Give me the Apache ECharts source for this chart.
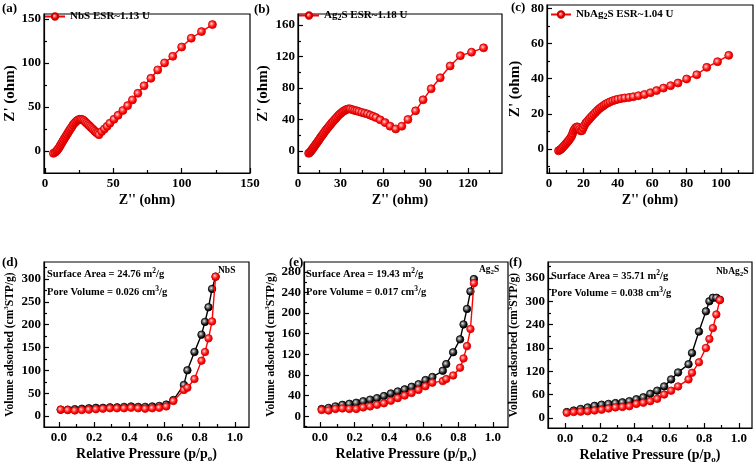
<!DOCTYPE html>
<html><head><meta charset="utf-8">
<script src="https://cdn.jsdelivr.net/npm/echarts@6/dist/echarts.min.js"></script>
<style>html,body{margin:0;padding:0;background:#fff}#c{width:756px;height:465px}</style>
</head><body><div id="c"></div>
<script>
// ---- EIS data (Nyquist) ----
const nbsZre = [6.2,7.5,8.5,9.2,10,10.8,11.5,12.3,13,13.8,14.6,15.4,16.2,17,17.8,18.6,19.5,20.5,21.5,22.5,23.5,24.5,25.5,26.5,27.5,28.5,29.5,30.5,31.5,32.5,33.5,34.5,35.5,36.5,37.5,38.5,39.5,41.5,43.5,45.5,47.5,50.5,53.5,57,60.5,64,68,72.5,77.5,82.5,87.5,93.5,100,107,114.5,122.5];
const nbsZim = [-2.7,-1.5,0,1.5,3,5,7,9,11,13,15,17,19,21,23,25,27,29.5,31.5,33,34.5,35.5,36,36,35.5,34.5,33,31.5,30,28.5,27,25.5,24,22.5,21,20,18.5,22,25,28,31.5,36,40.5,46,51.5,58,65.5,74,82.5,92,100,107.5,118,128,135.5,143.5];
const agZre = [7.5,8.3,9,9.6,10.2,10.8,11.4,12,12.7,13.4,14.1,14.8,15.5,16.3,17.1,17.9,18.7,19.5,20.4,21.3,22.2,23.1,24,25,26,27,28,29,30,31,32,33,34,35,36,37,38.5,40,41.5,43,45,47,49,51,53,55,58,61.5,65,69,73.3,77.6,83,88.3,94,100.4,107.4,114.6,122.5,131];
const agZim = [-3,-2,-0.5,1,2.5,4,5.5,7,8.8,10.5,12.3,14,16,18,20,22,24,26,28,30,32,34,36,38,40,42,44,46,47.5,49,50.5,51.5,52.5,53.2,53.5,53.3,52.5,51.5,51,50,49,48,47,45.5,44,42.5,39.5,36,31.5,28,31.5,40,51,65,79,93,108,121,125.5,131];
const nbagZre = [5.5,6.3,7,7.7,8.4,9.1,9.8,10.5,11.2,11.9,12.6,13.2,13.7,14.2,14.8,15.5,16.3,17.1,17.8,18.5,19.2,19.9,20.6,21.4,22.3,23.2,24.1,25,26,27,28,29,30,31,32,33,34.2,35.5,37,38.5,40,42,44,46.5,49,52,55.5,59,62.5,66.5,70.7,75,80,85.9,91.7,98,104.5];
const nbagZim = [-1,-0.5,0,0.7,1.5,2.2,3,3.8,4.6,5.5,6.5,7.5,8.8,10.2,11.3,12.2,12.6,12.2,11.2,10.3,10.5,12,13.5,14.8,15.8,16.8,17.8,18.8,19.8,20.8,21.8,22.7,23.5,24.2,24.9,25.6,26.2,26.8,27.4,27.9,28.3,28.7,29,29.3,29.7,30.3,31,32,33.2,34.6,36,37.5,39.8,42.2,46.4,49.6,53.2];

// ---- BET isotherms ----
const relP = [0.01,0.05,0.09,0.13,0.17,0.21,0.25,0.29,0.33,0.37,0.41,0.45,0.49,0.53,0.57,0.61,0.65,0.71,0.73,0.77,0.81,0.83,0.85,0.87,0.89];
const nbsAds = [14,13,12,13,14,15,16,17,17,17,18,17,16,17,18,21,33,57,62,81,121,140,170,207,305];
const nbsDes = [14,14,15,16,17,18,18,19,19,20,21,20,20,21,22,25,35,68,100,140,178,206,238,278,305];
const agAds = [12,11,14,15,14,14,17,19,22,25,30,35,40,45,51,58,65,68,72,79,94,112,136,169,258];
const agDes = [14,16,19,22,24,26,29,32,35,39,44,48,52,57,62,70,76,88,101,124,149,178,208,242,266];
const nbagAds = [13,15,16,17,19,21,24,27,28,30,36,39,43,49,60,70,81,99,116,143,180,203,231,266,303];
const nbagDes = [15,19,23,27,31,34,36,38,40,43,48,53,62,70,81,99,117,138,167,222,274,300,309,309,304];

// ---- tick labels ----
const ticksA_x = [0,50,100,150], ticksA_y = [0,50,100,150];
const ticksB_x = [0,30,60,90,120], ticksB_y = [0,40,80,120,160];
const ticksC_x = [0,20,40,60,80,100], ticksC_y = [0,20,40,60,80];
const ticksBET_x = [0,0.2,0.4,0.6,0.8,1.0];
const ticksD_y = [0,50,100,150,200,250,300];
const ticksE_y = [0,40,80,120,160,200,240,280];
const ticksF_y = [0,60,120,180,240,300,360];

const F = 'Liberation Serif';
const zip = (a,b) => a.map((v,i)=>[v,b[i]]);
const mids = t => { const s=t[1]-t[0]; const r=[t[0]-s/2]; t.forEach(v=>r.push(v+s/2)); return r; };

const chart = echarts.init(document.getElementById('c'));

const redFill = new echarts.graphic.RadialGradient(0.4,0.4,0.6,[{offset:0,color:'#ffe0e0'},{offset:0.35,color:'#ff5050'},{offset:0.7,color:'#ff0000'},{offset:1,color:'#e00000'}]);
const blkFill = new echarts.graphic.RadialGradient(0.4,0.4,0.6,[{offset:0,color:'#e8e8e8'},{offset:0.35,color:'#707070'},{offset:0.7,color:'#111'},{offset:1,color:'#000'}]);

const panels = [
 {grid:{left:44,top:14,width:206,height:159}, xr:[-0.7,150], yr:[-25,155.5], xt:ticksA_x, yt:ticksA_y, xf:v=>String(v), xName:"Z'' (ohm)", yName:"Z' (ohm)", xGap:20, yGap:24},
 {grid:{left:298,top:14,width:204,height:159}, xr:[0,144], yr:[-28,174], xt:ticksB_x, yt:ticksB_y, xf:v=>String(v), xName:"Z'' (ohm)", yName:"Z' (ohm)", xGap:20, yGap:27},
 {grid:{left:547,top:5,width:206,height:168}, xr:[-1.2,118.6], yr:[-13.6,81.8], xt:ticksC_x, yt:ticksC_y, xf:v=>String(v), xName:"Z'' (ohm)", yName:"Z' (ohm)", xGap:20, yGap:24},
 {grid:{left:44,top:262,width:205,height:165}, xr:[-0.085,1.08], yr:[-24,337], xt:ticksBET_x, yt:ticksD_y, xf:v=>v.toFixed(1), xName:'{t|Relative Pressure (p/p}{s|o}{t|)}', yName:'{t|Volume adsorbed (cm}{u|3}{t|STP/g)}', xGap:19, yGap:27},
 {grid:{left:304,top:262,width:204,height:165}, xr:[-0.092,1.087], yr:[-21,299], xt:ticksBET_x, yt:ticksE_y, xf:v=>v.toFixed(1), xName:'{t|Relative Pressure (p/p}{s|o}{t|)}', yName:'{t|Volume adsorbed (cm}{u|3}{t|STP/g)}', xGap:19, yGap:26},
 {grid:{left:548,top:262,width:204,height:166}, xr:[-0.098,1.075], yr:[-26,401], xt:ticksBET_x, yt:ticksF_y, xf:v=>v.toFixed(1), xName:'{t|Relative Pressure (p/p}{s|o}{t|)}', yName:'{t|Volume adsorbed (cm}{u|3}{t|STP/g)}', xGap:19, yGap:27}
];

const richName = (fs) => ({
  t:{fontFamily:F,fontWeight:'bold',fontSize:fs,color:'#000',lineHeight:fs+3,verticalAlign:'middle'},
  s:{fontFamily:F,fontWeight:'bold',fontSize:Math.round(fs*0.65),color:'#000',lineHeight:fs*0.5,verticalAlign:'bottom'},
  u:{fontFamily:F,fontWeight:'bold',fontSize:Math.round(fs*0.65),color:'#000',lineHeight:fs*0.5,verticalAlign:'top'}
});

const grids=[], xAxes=[], yAxes=[];
const lineBlk = {color:'#000',width:1.2};
panels.forEach((p,i)=>{
  const bet = i>=3;
  grids.push(Object.assign({show:true,borderColor:'#000',borderWidth:1.2,containLabel:false}, p.grid));
  const lbl = {fontFamily:F,fontWeight:'bold',fontSize:13,color:'#000'};
  xAxes.push({type:'value',gridIndex:i,position:'bottom',min:p.xr[0],max:p.xr[1],
    axisLine:{show:true,onZero:false,lineStyle:lineBlk},
    axisTick:{show:true,inside:true,length:5,customValues:p.xt,lineStyle:lineBlk},
    axisLabel:Object.assign({show:true,customValues:p.xt,margin:4,formatter:p.xf},lbl),
    splitLine:{show:false},
    name:p.xName,nameLocation:'middle',nameGap:p.xGap,
    nameTextStyle:{fontFamily:F,fontWeight:'bold',fontSize:14,color:'#000',rich:richName(14)}});
  xAxes.push({type:'value',gridIndex:i,position:'bottom',min:p.xr[0],max:p.xr[1],
    axisLine:{show:false,onZero:false},axisLabel:{show:false},splitLine:{show:false},
    axisTick:{show:true,inside:true,length:3,customValues:mids(p.xt).filter(v=>v>p.xr[0]&&v<p.xr[1]),lineStyle:lineBlk}});
  yAxes.push({type:'value',gridIndex:i,position:'left',min:p.yr[0],max:p.yr[1],
    axisLine:{show:true,onZero:false,lineStyle:lineBlk},
    axisTick:{show:true,inside:true,length:5,customValues:p.yt,lineStyle:lineBlk},
    axisLabel:Object.assign({show:true,customValues:p.yt,margin:3},lbl),
    splitLine:{show:false},
    name:p.yName,nameLocation:'middle',nameGap:p.yGap,
    nameTextStyle:{fontFamily:F,fontWeight:'bold',fontSize:bet?11.5:15,color:'#000',rich:richName(bet?11.5:15)}});
  yAxes.push({type:'value',gridIndex:i,position:'left',min:p.yr[0],max:p.yr[1],
    axisLine:{show:false,onZero:false},axisLabel:{show:false},splitLine:{show:false},
    axisTick:{show:true,inside:true,length:3,customValues:mids(p.yt).filter(v=>v>p.yr[0]&&v<p.yr[1]),lineStyle:lineBlk}});
});

const mk = (name, data, idx, col, fill, size) => ({
  name, type:'line', data, xAxisIndex:idx*2, yAxisIndex:idx*2, symbol:'circle', symbolSize:size,
  showSymbol:true, animation:false, z: col==='#ff0000'?3:2,
  lineStyle:{color:col,width:1.4}, itemStyle:{color:fill,borderColor:col==='#ff0000'?'#d00000':'#000',borderWidth:0.8}
});

const series = [
  mk('NbS ESR~1.13 U', zip(nbsZre,nbsZim), 0, '#ff0000', redFill, 8),
  mk('Ag2S ESR~1.18 U', zip(agZre,agZim), 1, '#ff0000', redFill, 8),
  mk('NbAg2S ESR~1.04 U', zip(nbagZre,nbagZim), 2, '#ff0000', redFill, 8),
  mk('NbS des', zip(relP,nbsDes), 3, '#000', blkFill, 7.5),
  mk('NbS ads', zip(relP,nbsAds), 3, '#ff0000', redFill, 7.5),
  mk('Ag2S des', zip(relP,agDes), 4, '#000', blkFill, 7.5),
  mk('Ag2S ads', zip(relP,agAds), 4, '#ff0000', redFill, 7.5),
  mk('NbAg2S des', zip(relP,nbagDes), 5, '#000', blkFill, 7.5),
  mk('NbAg2S ads', zip(relP,nbagAds), 5, '#ff0000', redFill, 7.5)
];

const legRich = {
  t:{fontFamily:F,fontWeight:'bold',fontSize:11,color:'#000',lineHeight:13,verticalAlign:'middle'},
  s:{fontFamily:F,fontWeight:'bold',fontSize:8,color:'#000',lineHeight:6,verticalAlign:'bottom'}
};
const fmtLegend = n => n.indexOf('Ag2S')>=0 ? n.replace(/^(.*)Ag2S(.*)$/, '{t|$1Ag}{s|2}{t|S$2}') : '{t|'+n+'}';
const mkLegend = (name,left,top) => ({data:[name],left,top,padding:0,itemWidth:20,itemHeight:8,itemGap:0,
  textStyle:{fontFamily:F,fontWeight:'bold',fontSize:11,color:'#000',rich:legRich},
  formatter:n=>fmtLegend(n).replace(/\{t\|\}/g,'')});

const txt = (text,left,top,fs,rich) => ({type:'text',left,top,style:{text,fontFamily:F,fontWeight:'bold',fontSize:fs,fill:'#000',rich}});
const annRich = {
  t:{fontFamily:F,fontWeight:'bold',fontSize:10.5,fill:'#000',lineHeight:14,verticalAlign:'middle'},
  u:{fontFamily:F,fontWeight:'bold',fontSize:7.5,fill:'#000',lineHeight:7,verticalAlign:'top'},
  s:{fontFamily:F,fontWeight:'bold',fontSize:7.5,fill:'#000',lineHeight:7,verticalAlign:'bottom'}
};
const smpRich = {
  t:{fontFamily:F,fontWeight:'bold',fontSize:9.5,fill:'#000',lineHeight:12,verticalAlign:'middle'},
  s:{fontFamily:F,fontWeight:'bold',fontSize:7,fill:'#000',lineHeight:6,verticalAlign:'bottom'}
};

const graphic = [
  txt('(a)',2,2,13), txt('(b)',254,3,13), txt('(c)',511,1,13),
  txt('(d)',2,256,13), txt('(e)',289,256,13), txt('(f)',509,256,13),
  txt('{t|Surface Area = 24.76 m}{u|2}{t|/g}',47,267,10.5,annRich),
  txt('{t|Pore Volume = 0.026 cm}{u|3}{t|/g}',47,285,10.5,annRich),
  txt('{t|NbS}',218,266,9.5,smpRich),
  txt('{t|Surface Area = 19.43 m}{u|2}{t|/g}',306,267,10.5,annRich),
  txt('{t|Pore Volume = 0.017 cm}{u|3}{t|/g}',306,285,10.5,annRich),
  txt('{t|Ag}{s|2}{t|S}',479,265,9.5,smpRich),
  txt('{t|Surface Area = 35.71 m}{u|2}{t|/g}',551,269,10.5,annRich),
  txt('{t|Pore Volume = 0.038 cm}{u|3}{t|/g}',551,286,10.5,annRich),
  txt('{t|NbAg}{s|2}{t|S}',716,267,9.5,smpRich)
];

chart.setOption({
  animation:false, backgroundColor:'#fff',
  grid:grids, xAxis:xAxes, yAxis:yAxes, series,
  legend:[mkLegend('NbS ESR~1.13 U',44,11), mkLegend('Ag2S ESR~1.18 U',298,10), mkLegend('NbAg2S ESR~1.04 U',550,9)],
  graphic
});
</script></body></html>
